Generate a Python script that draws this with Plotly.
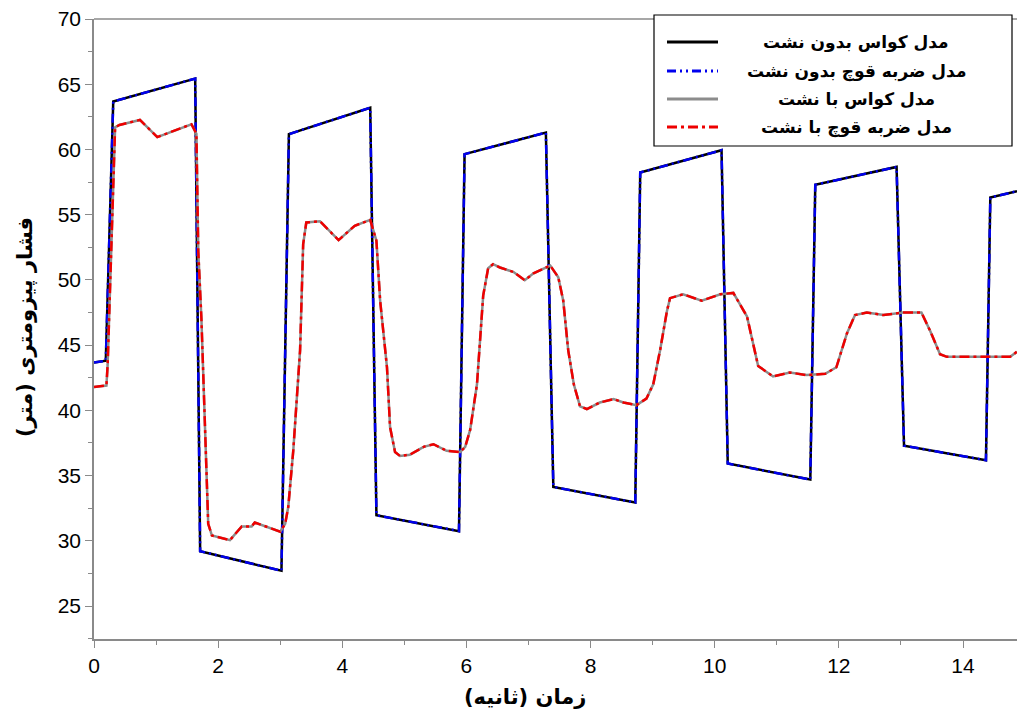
import plotly.graph_objects as go

# ---- data ----
time_no_leak = [0, 0.19, 0.31, 1.63, 1.71, 3.02, 3.14, 4.45, 4.55, 5.88, 5.97, 7.28, 7.40,
                8.72, 8.80, 10.11, 10.21, 11.54, 11.62, 12.93, 13.05, 14.37, 14.44, 14.87]
gauss_no_leak = [43.67, 43.8, 63.67, 65.43, 29.2, 27.7, 61.17, 63.2, 31.96, 30.74, 59.64, 61.29, 34.13,
                 32.93, 58.23, 59.94, 35.92, 34.69, 57.29, 58.66, 37.29, 36.17, 56.32, 56.8]
wh_no_leak = [43.67, 43.8, 63.67, 65.43, 29.2, 27.7, 61.17, 63.2, 31.96, 30.74, 59.64, 61.29, 34.13,
              32.93, 58.23, 59.94, 35.92, 34.69, 57.29, 58.66, 37.29, 36.17, 56.32, 56.8]

time_leak = [0, 0.20, 0.22, 0.28, 0.34, 0.41, 0.74, 1.02, 1.57, 1.65, 1.68, 1.73, 1.77, 1.84, 1.90,
             2.19, 2.38, 2.54, 2.59, 3.00, 3.08, 3.13, 3.21, 3.32, 3.37, 3.42, 3.64, 3.94, 4.20,
             4.45, 4.55, 4.61, 4.72, 4.77, 4.85, 4.93, 5.09, 5.31, 5.47, 5.68, 5.90, 5.98, 6.06,
             6.17, 6.27, 6.35, 6.43, 6.54, 6.76, 6.94, 7.08, 7.35, 7.48, 7.56, 7.64, 7.73, 7.83,
             7.94, 8.15, 8.37, 8.53, 8.74, 8.90, 9.01, 9.12, 9.23, 9.28, 9.49, 9.79, 10.09, 10.30,
             10.52, 10.70, 10.94, 11.21, 11.48, 11.78, 11.96, 12.13, 12.26, 12.45, 12.72, 13.04,
             13.33, 13.47, 13.63, 13.74, 14.38, 14.76, 14.87]
gauss_leak = [41.78, 41.9, 43.5, 53.0, 61.7, 61.88, 62.26, 60.95, 61.93, 61.2, 52.2, 47.1, 41.3, 31.3, 30.4,
              30.05, 31.1, 31.1, 31.4, 30.7, 31.3, 32.6, 36.9, 44.6, 52.75, 54.4, 54.5, 53.05, 54.15,
              54.6, 53.0, 48.4, 43.3, 38.7, 36.8, 36.5, 36.6, 37.2, 37.4, 36.9, 36.8, 37.2, 38.5,
              42.0, 48.8, 50.9, 51.2, 50.95, 50.6, 49.97, 50.5, 51.1, 50.2, 48.4, 44.6, 42.0, 40.3,
              40.1, 40.6, 40.86, 40.6, 40.4, 40.9, 42.0, 44.6, 47.6, 48.6, 48.9, 48.4, 48.9, 49.0,
              47.2, 43.4, 42.6, 42.9, 42.7, 42.8, 43.3, 45.9, 47.3, 47.5, 47.3, 47.5,
              47.5, 46.1, 44.3, 44.1, 44.1, 44.1, 44.5]
wh_leak = list(gauss_leak)

legend_names = ["مدل کواس بدون نشت", "مدل ضربه قوچ بدون نشت", "مدل کواس با نشت", "مدل ضربه قوچ با نشت"]
x_title = "زمان (ثانیه)"
y_title = "فشار پیزومتری (متر)"

# ---- styles ----
styles = [
    dict(color="black", width=2.5, dash="solid"),
    dict(color="#0000ee", width=2.5, dash="9px,4px,2px,4px,2px,4px"),
    dict(color="#8c8c8c", width=2.5, dash="solid"),
    dict(color="#ee0000", width=2.5, dash="10px,4px,3px,4px"),
]
series = [(time_no_leak, gauss_no_leak), (time_no_leak, wh_no_leak),
          (time_leak, gauss_leak), (time_leak, wh_leak)]

fig = go.Figure()
for (t, v), st, nm in zip(series, styles, legend_names):
    fig.add_trace(go.Scatter(x=t, y=v, mode="lines", name=nm, line=st, showlegend=False))

# plot area geometry (pixels) for legend placement
L, T, R, B = 94, 19, 1017, 639
W, H = R - L, B - T
px = lambda x: (x - L) / W
py = lambda y: (B - y) / H

shapes = [
    dict(type="line", xref="paper", yref="paper", x0=0, x1=1, y0=1, y1=1,
         line=dict(color="#8a8a8a", width=1.5)),
    dict(type="rect", xref="paper", yref="paper", x0=px(654), x1=px(1012), y0=py(146), y1=py(15),
         line=dict(color="black", width=1.2), fillcolor="white", layer="above"),
]
annotations = []
rows = [42, 71, 99, 127]
for st, nm, r in zip(styles, legend_names, rows):
    lst = dict(st)
    lst["width"] = 3
    shapes.append(dict(type="line", xref="paper", yref="paper", x0=px(667), x1=px(718),
                       y0=py(r), y1=py(r), line=lst, layer="above"))
    annotations.append(dict(xref="paper", yref="paper", x=px(856), y=py(r), text="<b>" + nm + "</b>",
                            showarrow=False, xanchor="center", yanchor="middle",
                            font=dict(family="DejaVu Sans", size=17, color="black")))

annotations.append(dict(xref="paper", yref="paper", x=px(525), y=py(697), text="<b>" + x_title + "</b>",
                        showarrow=False, xanchor="center", yanchor="middle",
                        font=dict(family="DejaVu Sans", size=21, color="black")))
annotations.append(dict(xref="paper", yref="paper", x=px(25), y=py(327), text="<b>" + y_title + "</b>",
                        showarrow=False, xanchor="center", yanchor="middle", textangle=-90,
                        font=dict(family="DejaVu Sans", size=21, color="black")))

axis_common = dict(showgrid=False, zeroline=False, showline=True, linecolor="#8a8a8a", linewidth=1.5,
                   ticks="outside", tickcolor="#8a8a8a", ticklen=7, tickwidth=1.2,
                   tickfont=dict(family="Liberation Sans, Arial", size=21, color="black"))

fig.update_layout(
    width=1017, height=715,
    margin=dict(l=L, r=0, t=T, b=715 - B),
    paper_bgcolor="white", plot_bgcolor="white",
    xaxis=dict(range=[0, 14.87], dtick=2, tick0=0, mirror=False,
               minor=dict(dtick=1, ticks="outside", ticklen=4, tickcolor="#8a8a8a"),
               **axis_common),
    yaxis=dict(range=[22.47, 70], dtick=5, tick0=0,
               minor=dict(dtick=2.5, ticks="outside", ticklen=4, tickcolor="#8a8a8a"),
               **axis_common),
    shapes=shapes,
    annotations=annotations,
)

fig.write_html("out.html")
